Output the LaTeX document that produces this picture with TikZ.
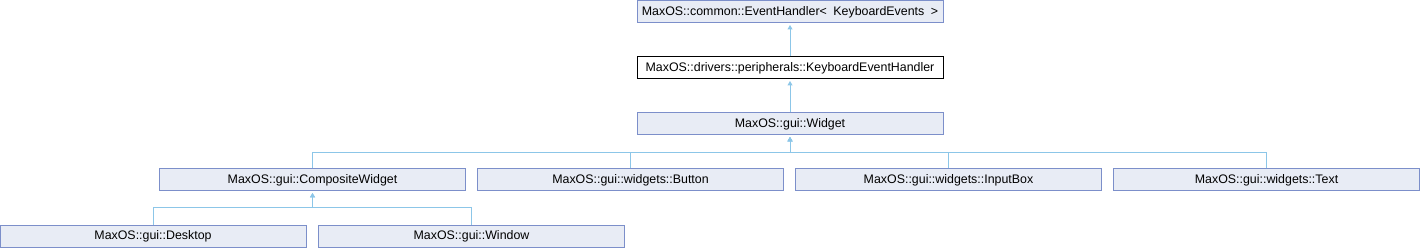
\documentclass[tikz,border=0pt]{standalone}
\usepackage{fontspec}
\setmainfont{Liberation Sans}
\usepackage{xcolor}
\usepackage{tikz}
\usetikzlibrary{arrows.meta}
\definecolor{doxfill}{HTML}{E8ECF5}
\definecolor{doxborder}{HTML}{7C8FCA}
\definecolor{doxedge}{HTML}{8CC6E8}

\begin{document}
\begin{tikzpicture}[x=1pt, y=-1pt,
    classbox/.style={draw=doxborder, fill=doxfill, line width=1pt,
      minimum width=306pt, minimum height=22pt, inner sep=0pt,
      font=\fontsize{12.4}{15}\selectfont},
    current/.style={classbox, draw=black, fill=white},
    inherit/.style={doxedge, line width=1pt,
      -{Triangle[width=5pt, length=4.5pt]}, shorten >=1.5pt}]
    \useasboundingbox (0, 0) rectangle (1421, 248);

    % top of the hierarchy
    \node (evhandler) at (790, 12) [classbox]
      {MaxOS::common::EventHandler<\hspace{6.5pt}KeyboardEvents\hspace{6.5pt}>};
    \node (kbhandler) at (790, 68) [current]
      {MaxOS::drivers::peripherals::KeyboardEventHandler};
    \node (widget) at (790, 124) [classbox] {MaxOS::gui::Widget};

    % widgets
    \node (composite) at (312.5, 180) [classbox] {MaxOS::gui::CompositeWidget};
    \node (button) at (630.5, 180) [classbox] {MaxOS::gui::widgets::Button};
    \node (inputbox) at (948.5, 180) [classbox] {MaxOS::gui::widgets::InputBox};
    \node (text) at (1266.5, 180) [classbox] {MaxOS::gui::widgets::Text};

    % composite widgets
    \node (desktop) at (153, 236) [classbox] {MaxOS::gui::Desktop};
    \node (window) at (471.5, 236) [classbox] {MaxOS::gui::Window};

    % inheritance edges
    \coordinate (widgetbus) at (790, 153);
    \coordinate (compbus) at (312.5, 208);
    \draw[inherit] (kbhandler) -- (evhandler);
    \draw[inherit] (widget) -- (kbhandler);
    \foreach \child in {composite, button, inputbox, text} {
      \draw[inherit] (\child.north) |- (widgetbus) -- (widget.south);
    }
    \foreach \child in {desktop, window} {
      \draw[inherit] (\child.north) |- (compbus) -- (composite.south);
    }
\end{tikzpicture}
\end{document}
